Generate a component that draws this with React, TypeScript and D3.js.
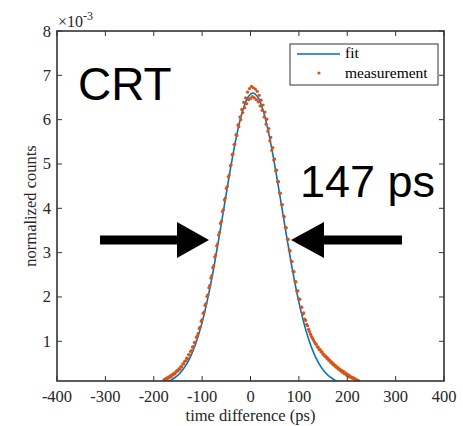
import React from "react";
import * as d3 from "d3";

// measurement: values in units of 1e-3, bins of 2 ps starting at -180 ps
const binStart = -180;
const binWidth = 2;
const measurement = [
  0.11, 0.14, 0.13, 0.17, 0.15, 0.19, 0.18, 0.22, 0.20, 0.25,
  0.24, 0.28, 0.27, 0.31, 0.34, 0.33, 0.38, 0.37, 0.43, 0.42,
  0.49, 0.49, 0.55, 0.56, 0.62, 0.61, 0.70, 0.69, 0.77, 0.79,
  0.87, 0.88, 0.97, 0.98, 1.09, 1.12, 1.18, 1.29, 1.32, 1.45,
  1.49, 1.63, 1.66, 1.81, 1.85, 2.01, 2.05, 2.21, 2.26, 2.43,
  2.48, 2.66, 2.71, 2.90, 2.95, 3.15, 3.20, 3.40, 3.46, 3.66,
  3.71, 3.93, 3.97, 4.19, 4.23, 4.45, 4.49, 4.71, 4.75, 4.96,
  4.98, 5.21, 5.23, 5.44, 5.45, 5.66, 5.64, 5.88, 5.84, 6.06,
  6.00, 6.23, 6.16, 6.39, 6.27, 6.49, 6.36, 6.62, 6.45, 6.70,
  6.48, 6.75, 6.52, 6.72, 6.49, 6.69, 6.45, 6.64, 6.40, 6.55,
  6.31, 6.44, 6.21, 6.33, 6.06, 6.17, 5.90, 6.01, 5.74, 5.80,
  5.52, 5.60, 5.31, 5.37, 5.09, 5.11, 4.85, 4.86, 4.60, 4.60,
  4.35, 4.34, 4.09, 4.08, 3.83, 3.81, 3.57, 3.56, 3.31, 3.30,
  3.06, 3.04, 2.81, 2.80, 2.58, 2.57, 2.35, 2.34, 2.13, 2.14,
  1.95, 1.95, 1.76, 1.77, 1.61, 1.64, 1.50, 1.47, 1.38, 1.35,
  1.27, 1.22, 1.16, 1.11, 1.07, 1.03, 0.99, 0.95, 0.93, 0.87,
  0.87, 0.81, 0.81, 0.76, 0.76, 0.71, 0.70, 0.66, 0.66, 0.61,
  0.62, 0.57, 0.57, 0.52, 0.53, 0.48, 0.49, 0.44, 0.45, 0.41,
  0.41, 0.37, 0.38, 0.34, 0.35, 0.30, 0.32, 0.27, 0.29, 0.24,
  0.26, 0.21, 0.23, 0.19, 0.20, 0.17, 0.18, 0.15, 0.15, 0.13,
  0.13, 0.11, 0.10,
];

// Gaussian fit, sampled every 10 ps (units of 1e-3)
const fitX = [
  -185, -175, -165, -155, -145, -135, -125, -115, -105, -95,
  -85, -75, -65, -55, -45, -35, -25, -15, -5, 5,
  15, 25, 35, 45, 55, 65, 75, 85, 95, 105,
  115, 125, 135, 145, 155, 165, 175, 185, 195,
];
const fitY = [
  0.044, 0.073, 0.119, 0.189, 0.290, 0.434, 0.631, 0.893, 1.229, 1.646,
  2.143, 2.713, 3.342, 4.003, 4.664, 5.285, 5.825, 6.244, 6.509, 6.600,
  6.509, 6.244, 5.825, 5.285, 4.664, 4.003, 3.342, 2.713, 2.143, 1.646,
  1.229, 0.893, 0.631, 0.434, 0.290, 0.189, 0.119, 0.073, 0.044,
];

const xTicks = [-400, -300, -200, -100, 0, 100, 200, 300, 400];
const yTicks = [1, 2, 3, 4, 5, 6, 7, 8];
const legendLabels = ["fit", "measurement"];

const W = 463;
const H = 426;
const L = 57, R = 444, T = 31, B = 381;
const BLUE = "#0072BD";
const ORANGE = "#D95319";
const AX = "#333333";
const SERIF = "'Liberation Serif', 'Times New Roman', serif";
const SANS = "'Liberation Sans', Arial, Helvetica, sans-serif";
const FS = 16.5;

export default function App() {
  const x = d3.scaleLinear().domain([-400, 400]).range([L, R]);
  const y = d3.scaleLinear().domain([0.104, 8]).range([B, T]);

  const pts = measurement.map((v, i) => ({ t: binStart + i * binWidth, v }));
  const fitLine = d3
    .line<number>()
    .x((_, i) => x(fitX[i]))
    .y((d) => y(d))
    .curve(d3.curveCatmullRom.alpha(0.5))(fitY) as string;

  const tick = 5;

  return (
    <svg
      width={W}
      height={H}
      style={{ position: "absolute", left: 0, top: 0, background: "#fff" }}
    >
      <defs>
        <clipPath id="plotclip">
          <rect x={L} y={T} width={R - L} height={B - T} />
        </clipPath>
      </defs>
      <rect x={0} y={0} width={W} height={H} fill="#fff" />

      <g clipPath="url(#plotclip)">
        <path d={fitLine} fill="none" stroke={BLUE} strokeWidth={1.6} />
        {pts.map((p, i) => (
          <circle key={i} cx={x(p.t)} cy={y(p.v)} r={1.6} fill={ORANGE} />
        ))}
      </g>

      {/* axes box */}
      <rect x={L} y={T} width={R - L} height={B - T} fill="none" stroke={AX} strokeWidth={1.6} />

      {/* x ticks */}
      {xTicks.map((t) => (
        <g key={"x" + t}>
          <line x1={x(t)} x2={x(t)} y1={B} y2={B - tick} stroke={AX} strokeWidth={1} />
          <line x1={x(t)} x2={x(t)} y1={T} y2={T + tick} stroke={AX} strokeWidth={1} />
          <text
            x={x(t)}
            y={402}
            textAnchor="middle"
            fontFamily={SERIF}
            fontSize={FS}
            fill="#262626"
          >
            {t}
          </text>
        </g>
      ))}

      {/* y ticks */}
      {yTicks.map((t) => (
        <g key={"y" + t}>
          <line x1={L} x2={L + tick} y1={y(t)} y2={y(t)} stroke={AX} strokeWidth={1} />
          <line x1={R} x2={R - tick} y1={y(t)} y2={y(t)} stroke={AX} strokeWidth={1} />
          <text
            x={51}
            y={y(t) + 5.5}
            textAnchor="end"
            fontFamily={SERIF}
            fontSize={FS}
            fill="#262626"
          >
            {t}
          </text>
        </g>
      ))}

      {/* exponent */}
      <text x={58} y={27} fontFamily={SERIF} fontSize={16} fill="#262626">
        ×10
        <tspan dy={-7} fontSize={12}>-3</tspan>
      </text>

      {/* axis labels */}
      <text
        x={(L + R) / 2}
        y={421}
        textAnchor="middle"
        fontFamily={SERIF}
        fontSize={FS}
        fill="#262626"
      >
        time difference (ps)
      </text>
      <text
        transform={`translate(36,${(T + B) / 2}) rotate(-90)`}
        textAnchor="middle"
        fontFamily={SERIF}
        fontSize={FS}
        fill="#262626"
      >
        normalized counts
      </text>

      {/* legend */}
      <rect x={290} y={44} width={148} height={41} fill="#fff" stroke={AX} strokeWidth={1} />
      <line x1={297} x2={340} y1={54} y2={54} stroke={BLUE} strokeWidth={1.6} />
      <circle cx={319} cy={73} r={1.6} fill={ORANGE} />
      <text x={345} y={58} fontFamily={SERIF} fontSize={15.5} fill="#000">
        {legendLabels[0]}
      </text>
      <text x={345} y={78} fontFamily={SERIF} fontSize={15.5} fill="#000">
        {legendLabels[1]}
      </text>

      {/* annotations */}
      <text x={78} y={100} fontFamily={SANS} fontSize={46} fill="#000">
        CRT
      </text>
      <text x={300} y={197} fontFamily={SANS} fontSize={45} fill="#000">
        147 ps
      </text>

      {/* arrows */}
      <path
        d="M100,235.5 L177,235.5 L177,222 L209,240 L177,258 L177,244.5 L100,244.5 Z"
        fill="#000"
      />
      <path
        d="M402,235.5 L324,235.5 L324,222 L291,240 L324,258 L324,244.5 L402,244.5 Z"
        fill="#000"
      />
    </svg>
  );
}
